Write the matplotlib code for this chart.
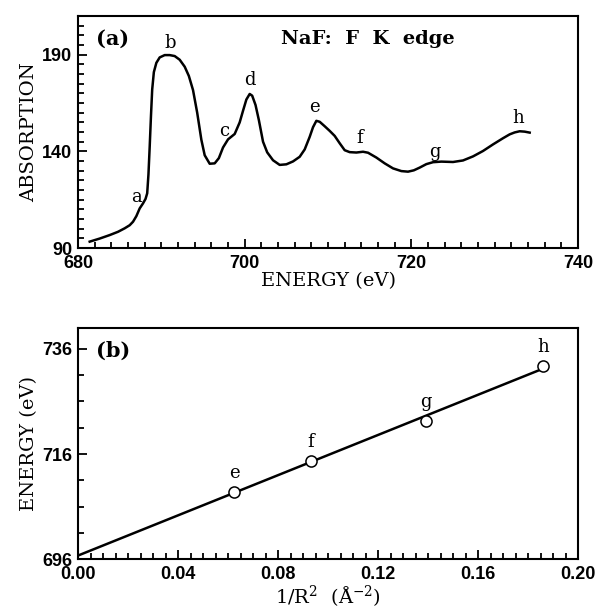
import numpy as np
import matplotlib
matplotlib.use("Agg")
import matplotlib.pyplot as plt
from matplotlib.ticker import MultipleLocator, FixedLocator

plt.rcParams['font.family'] = 'DejaVu Serif'
plt.rcParams['mathtext.fontset'] = 'dejavuserif'

# (a) F K-edge absorption spectrum of NaF
energy = [681.4, 682.6, 683.8, 684.8, 685.6, 686.2, 686.6, 687.0, 687.4, 687.8,
          688.1, 688.3, 688.45, 688.6, 688.75, 688.9, 689.1, 689.4, 689.8, 690.4,
          691.0, 691.6, 692.2, 692.8, 693.3, 693.8, 694.3, 694.8, 695.2, 695.8,
          696.4, 696.9, 697.4, 698.0, 698.8, 699.4, 699.8, 700.2, 700.6, 700.9,
          701.3, 701.7, 702.2, 702.7, 703.4, 704.2, 705.0, 705.8, 706.6, 707.2,
          707.8, 708.2, 708.6, 709.0, 709.6, 710.2, 710.8, 711.4, 712.0, 712.6,
          713.4, 714.2, 714.8, 715.8, 716.8, 717.8, 718.8, 719.6, 720.3, 721.0,
          721.8, 722.6, 723.6, 725.0, 726.2, 727.4, 728.6, 729.8, 731.0, 731.8,
          732.4, 733.0, 733.6, 734.2]
absorption = [93.3, 94.9, 96.7, 98.4, 100.2, 101.8, 103.6, 106.5, 110.5, 113.1,
              115.4, 118.3, 128.0, 142.4, 158.0, 172.0, 181.0, 185.8, 188.6, 189.8,
              189.8, 189.3, 187.4, 183.8, 179.0, 171.7, 160.0, 146.0, 138.0, 133.6,
              133.8, 136.5, 142.0, 146.2, 149.0, 155.0, 161.0, 166.8, 169.7, 168.8,
              164.0, 156.2, 145.0, 139.5, 135.4, 133.0, 133.3, 134.8, 137.2, 141.0,
              147.5, 152.5, 155.8, 155.3, 153.0, 150.6, 148.0, 144.2, 140.6, 139.6,
              139.4, 139.8, 139.3, 136.8, 133.8, 131.2, 129.8, 129.5, 130.2, 131.6,
              133.4, 134.4, 134.7, 134.5, 135.3, 137.4, 140.2, 143.6, 146.8, 148.8,
              149.8, 150.4, 150.2, 149.7]
peak_names = ['a', 'b', 'c', 'd', 'e', 'f', 'g', 'h']
peak_x = [687.0, 691.0, 697.5, 700.6, 708.4, 713.8, 722.8, 732.8]
peak_y = [116.5, 196.2, 150.7, 176.9, 162.8, 146.7, 139.8, 157.1]

# (b) peak energy vs 1/R^2
fit_names = ['e', 'f', 'g', 'h']
inv_r2 = [0.0624, 0.0931, 0.139, 0.186]
peak_energy = [708.8, 714.7, 722.3, 732.8]

tick_font = dict(family='Liberation Sans', weight='bold', size=13)

fig = plt.figure(figsize=(5.97, 6.10), dpi=100)
ax1 = fig.add_axes([0.1307, 0.5934, 0.8375, 0.3803])
ax2 = fig.add_axes([0.1307, 0.0836, 0.8375, 0.3787])


def style(ax):
    for s in ax.spines.values():
        s.set_linewidth(1.5)
    ax.tick_params(which='both', direction='in', top=False, right=False, width=1.3)
    ax.tick_params(which='major', length=6.5)
    ax.tick_params(which='minor', length=4)
    ax.tick_params(axis='x', pad=5)
    ax.tick_params(axis='y', pad=4)
    for lab in ax.get_xticklabels() + ax.get_yticklabels():
        lab.set_fontproperties(tick_font)


# panel (a)
ax1.plot(energy, absorption, color='black', lw=1.8, solid_joinstyle='round')
for n, x, y in zip(peak_names, peak_x, peak_y):
    ax1.text(x, y, n, ha='center', va='center', fontsize=13)
ax1.set_xlim(680, 740)
ax1.set_ylim(90, 210)
ax1.xaxis.set_major_locator(MultipleLocator(20))
ax1.xaxis.set_minor_locator(MultipleLocator(2))
ax1.yaxis.set_major_locator(FixedLocator([90, 140, 190]))
ax1.yaxis.set_minor_locator(MultipleLocator(5))
ax1.set_xlabel('ENERGY (eV)', fontsize=14, labelpad=0)
ax1.set_ylabel('ABSORPTION', fontsize=14, labelpad=3)
ax1.text(0.035, 0.9, '(a)', transform=ax1.transAxes, fontsize=15, fontweight='bold',
         va='center')
ax1.text(0.58, 0.9, 'NaF:  F  K  edge', transform=ax1.transAxes, fontsize=14,
         fontweight='bold', va='center', ha='center')
style(ax1)

# panel (b)
slope, icpt = np.polyfit(inv_r2, peak_energy, 1)
xf = np.array([0.0, max(inv_r2)])
ax2.plot(xf, slope * xf + icpt, color='black', lw=1.8)
ax2.plot(inv_r2, peak_energy, 'o', mfc='white', mec='black', ms=8, mew=1.1)
for n, x, y in zip(fit_names, inv_r2, peak_energy):
    ax2.text(x, y + 3.6, n, ha='center', va='center', fontsize=13)
ax2.set_xlim(0, 0.2)
ax2.set_ylim(696, 740)
ax2.xaxis.set_major_locator(MultipleLocator(0.04))
ax2.xaxis.set_minor_locator(MultipleLocator(0.005))
ax2.yaxis.set_major_locator(FixedLocator([696, 716, 736]))
ax2.yaxis.set_minor_locator(FixedLocator(list(range(696, 741, 5))))
ax2.xaxis.set_major_formatter(plt.FormatStrFormatter('%.2f'))
ax2.set_xlabel(r'1/R$^2$  ($\mathrm{\AA}^{-2}$)', fontsize=14, labelpad=0)
ax2.set_ylabel('ENERGY (eV)', fontsize=14, labelpad=3)
ax2.text(0.035, 0.9, '(b)', transform=ax2.transAxes, fontsize=15, fontweight='bold',
         va='center')
style(ax2)

fig.savefig('out.png', dpi=100)
